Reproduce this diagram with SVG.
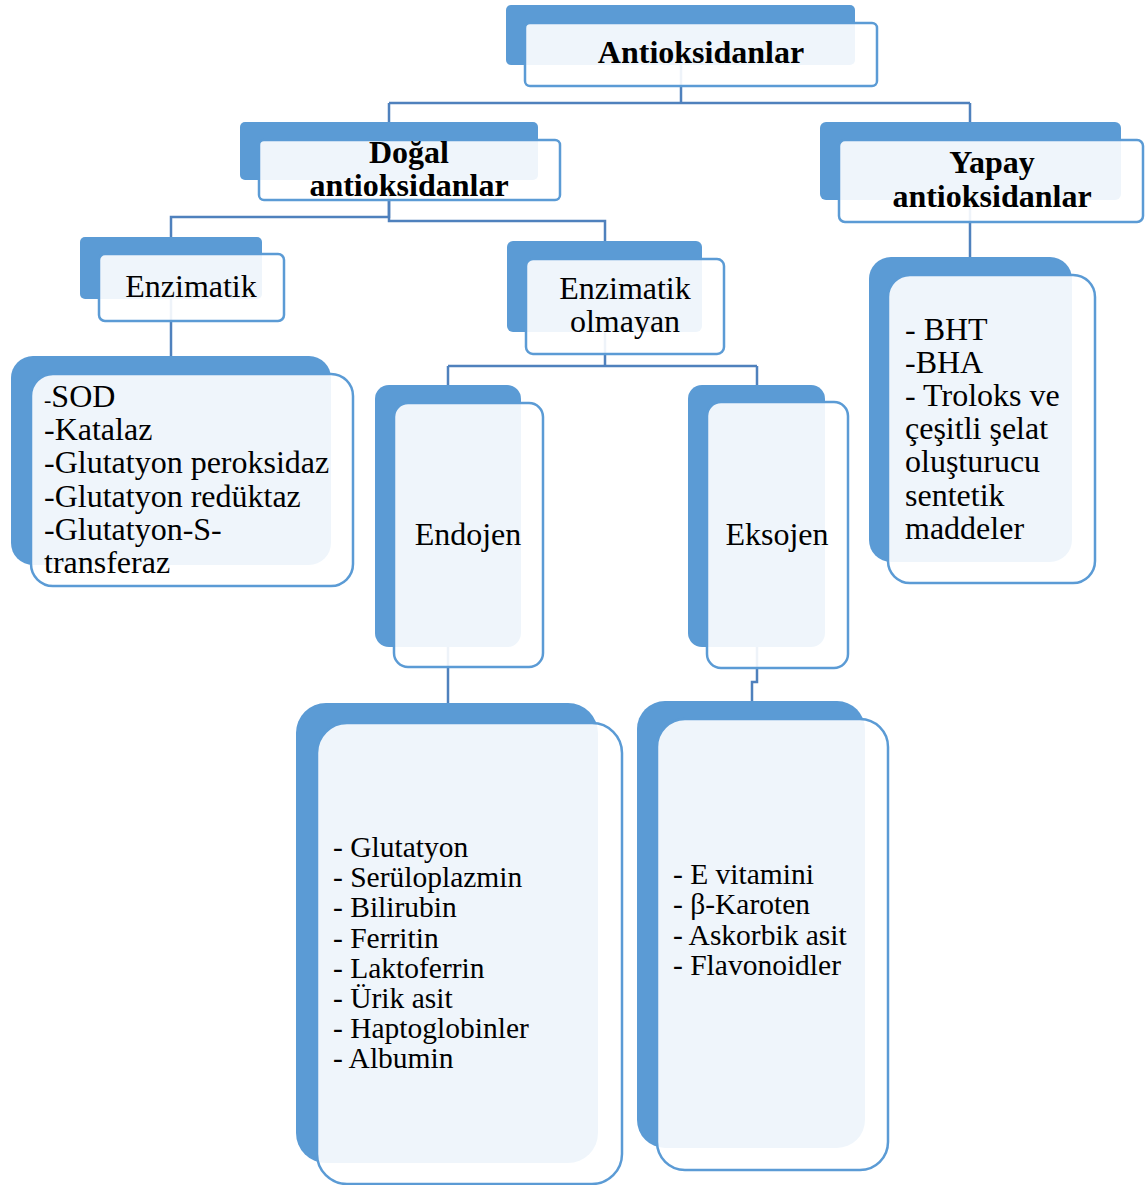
<svg xmlns="http://www.w3.org/2000/svg" width="1145" height="1185" viewBox="0 0 1145 1185">
<style>
.bk{fill:#5b9bd5}
.fr{fill:#ffffff;fill-opacity:0.9;stroke:#5b9bd5;stroke-width:2.5}
.cn{fill:none;stroke:#4f81bd;stroke-width:2.5}
text{font-family:"Liberation Serif","Times New Roman",serif;fill:#000}
.b{font-weight:bold;font-size:32px}
.r{font-size:32px}
.s{font-size:29.5px}
.c{text-anchor:middle}
</style>
<rect width="1145" height="1185" fill="#ffffff"/>
<g id="connectors">
<path class="cn" d="M681,65 V103 M389,103 H970 M389,103 V122 M970,103 V122"/>
<path class="cn" d="M389,180 V217 H171 V237"/>
<path class="cn" d="M389,180 V221 H605 V241"/>
<path class="cn" d="M171,299 V356"/>
<path class="cn" d="M605,332 V366 M448,366 H757 M448,366 V385 M757,366 V385"/>
<path class="cn" d="M970,200 V257"/>
<path class="cn" d="M448,647 V703"/>
<path class="cn" d="M757,647 V682 H752 V701"/>
</g>
<g id="n-antioksidanlar">
<rect class="bk" x="506" y="5" width="349" height="60" rx="5"/>
<rect class="fr" x="525" y="23" width="352" height="63" rx="5"/>
<text class="b c" x="701" y="63">Antioksidanlar</text>
</g>
<g id="n-dogal">
<rect class="bk" x="240" y="122" width="298" height="58" rx="5"/>
<rect class="fr" x="259" y="140" width="301" height="60" rx="5"/>
<text class="b c" x="409" y="163">Doğal</text>
<text class="b c" x="409" y="196">antioksidanlar</text>
</g>
<g id="n-yapay">
<rect class="bk" x="820" y="122" width="301" height="78" rx="6"/>
<rect class="fr" x="839" y="140" width="304" height="82" rx="6"/>
<text class="b c" x="992" y="173">Yapay</text>
<text class="b c" x="992" y="207">antioksidanlar</text>
</g>
<g id="n-enzimatik">
<rect class="bk" x="80" y="237" width="182" height="62" rx="5"/>
<rect class="fr" x="99" y="254" width="185" height="67" rx="6"/>
<text class="r c" x="191" y="297">Enzimatik</text>
</g>
<g id="n-enzimatik-olmayan">
<rect class="bk" x="507" y="241" width="195" height="91" rx="6"/>
<rect class="fr" x="526" y="259" width="198" height="95" rx="7"/>
<text class="r c" x="625" y="299">Enzimatik</text>
<text class="r c" x="625" y="332">olmayan</text>
</g>
<g id="n-enzim-list">
<rect class="bk" x="11" y="356" width="320" height="209" rx="22"/>
<rect class="fr" x="31" y="374" width="322" height="212" rx="22"/>
<text class="r" x="44" y="407"><tspan font-size="22">-</tspan>SOD</text>
<text class="r" x="44" y="440">-Katalaz</text>
<text class="r" x="44" y="473">-Glutatyon peroksidaz</text>
<text class="r" x="44" y="507">-Glutatyon redüktaz</text>
<text class="r" x="44" y="540">-Glutatyon-S-</text>
<text class="r" x="44" y="573">transferaz</text>
</g>
<g id="n-endojen">
<rect class="bk" x="375" y="385" width="146" height="262" rx="14"/>
<rect class="fr" x="394" y="403" width="149" height="264" rx="14"/>
<text class="r c" x="468" y="545">Endojen</text>
</g>
<g id="n-eksojen">
<rect class="bk" x="688" y="385" width="137" height="262" rx="14"/>
<rect class="fr" x="707" y="402" width="141" height="266" rx="14"/>
<text class="r c" x="777" y="545">Eksojen</text>
</g>
<g id="n-yapay-list">
<rect class="bk" x="869" y="257" width="203" height="305" rx="22"/>
<rect class="fr" x="888" y="275" width="207" height="308" rx="22"/>
<text class="r" x="905" y="340">- BHT</text>
<text class="r" x="905" y="373">-BHA</text>
<text class="r" x="905" y="406">- Troloks ve</text>
<text class="r" x="905" y="439">çeşitli şelat</text>
<text class="r" x="905" y="472">oluşturucu</text>
<text class="r" x="905" y="506">sentetik</text>
<text class="r" x="905" y="539">maddeler</text>
</g>
<g id="n-endojen-list">
<rect class="bk" x="296" y="703" width="302" height="460" rx="30"/>
<rect class="fr" x="317" y="723" width="305" height="461" rx="30"/>
<text class="s" x="333" y="857">- Glutatyon</text>
<text class="s" x="333" y="887">- Serüloplazmin</text>
<text class="s" x="333" y="917">- Bilirubin</text>
<text class="s" x="333" y="948">- Ferritin</text>
<text class="s" x="333" y="978">- Laktoferrin</text>
<text class="s" x="333" y="1008">- Ürik asit</text>
<text class="s" x="333" y="1038">- Haptoglobinler</text>
<text class="s" x="333" y="1068">- Albumin</text>
</g>
<g id="n-eksojen-list">
<rect class="bk" x="637" y="701" width="228" height="447" rx="28"/>
<rect class="fr" x="657" y="719" width="231" height="451" rx="28"/>
<text class="s" x="673" y="884">- E vitamini</text>
<text class="s" x="673" y="914">- β-Karoten</text>
<text class="s" x="673" y="945">- Askorbik asit</text>
<text class="s" x="673" y="975">- Flavonoidler</text>
</g>
</svg>
